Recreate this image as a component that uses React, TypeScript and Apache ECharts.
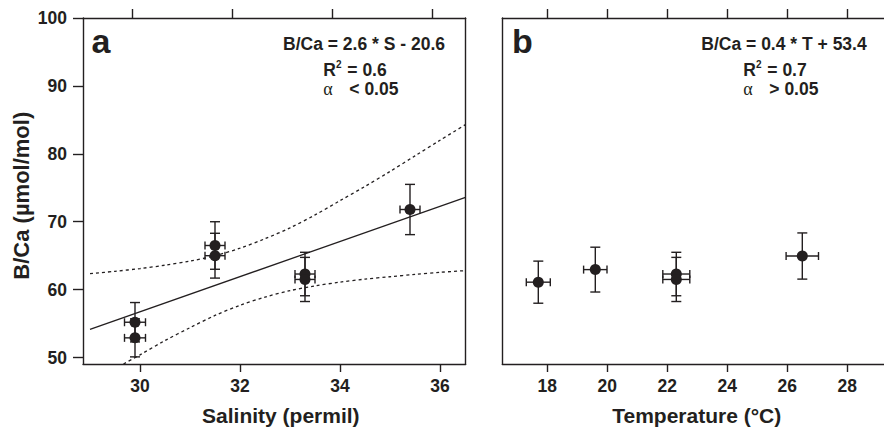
import React, { useEffect, useRef } from "react";
import * as echarts from "echarts";

// ---------- data ----------
// Panel a: salinity
const salinity = [29.9, 29.9, 31.5, 31.5, 33.3, 33.3, 35.4];
const bcaA = [55.2, 52.9, 66.5, 65.0, 62.3, 61.5, 71.8];
const xErrA = [0.21, 0.21, 0.2, 0.2, 0.2, 0.2, 0.2];
const yErrA = [2.9, 2.8, 3.5, 3.3, 3.2, 3.25, 3.7];

// regression line (as drawn)
const fitA: [number, number][] = [
  [29.0, 54.15],
  [36.51, 73.58],
];
// confidence band (dashed)
const upperA: [number, number][] = [
  [29.0, 62.35], [29.5, 62.7], [30.0, 63.1], [30.5, 63.6], [31.0, 64.2],
  [31.5, 65.0], [32.0, 66.1], [32.5, 67.5], [33.0, 69.1], [33.5, 71.0],
  [34.0, 73.1], [34.5, 75.2], [35.0, 77.4], [35.5, 79.7], [36.0, 82.0],
  [36.51, 84.3],
];
const lowerA: [number, number][] = [
  [29.67, 49.05], [30.0, 50.4], [30.5, 52.5], [31.0, 54.4], [31.5, 56.2],
  [32.0, 57.7], [32.5, 58.9], [33.0, 59.85], [33.5, 60.55], [34.0, 61.1],
  [34.5, 61.55], [35.0, 61.9], [35.5, 62.25], [36.0, 62.55], [36.51, 62.8],
];

// Panel b: temperature
const temperature = [17.7, 19.6, 22.3, 22.3, 26.5];
const bcaB = [61.1, 62.95, 62.3, 61.5, 64.95];
const xErrB = [0.4, 0.39, 0.45, 0.45, 0.54];
const yErrB = [3.1, 3.3, 3.2, 3.25, 3.4];

// ticks
const yTicks = [50, 60, 70, 80, 90, 100];
const xTicksA = [30, 32, 34, 36];
const xTopTicksA = [29.85, 31.85, 33.85, 35.85];
const xTicksB = [18, 20, 22, 24, 26, 28];

const INK = "#231f20";
const SANS = "'Liberation Sans', Arial, Helvetica, sans-serif";
const SERIF = "'Liberation Serif', 'Times New Roman', serif";

function errorBarItem(params: any, api: any) {
  const x = api.value(0);
  const y = api.value(1);
  const ex = api.value(2);
  const ey = api.value(3);
  const top = api.coord([x, y + ey]);
  const bot = api.coord([x, y - ey]);
  const left = api.coord([x - ex, y]);
  const right = api.coord([x + ex, y]);
  const cw = 5;
  const ch = 4;
  const style = { stroke: INK, lineWidth: 1.4 };
  return {
    type: "group",
    children: [
      { type: "line", shape: { x1: top[0], y1: top[1], x2: bot[0], y2: bot[1] }, style },
      { type: "line", shape: { x1: top[0] - cw, y1: top[1], x2: top[0] + cw, y2: top[1] }, style },
      { type: "line", shape: { x1: bot[0] - cw, y1: bot[1], x2: bot[0] + cw, y2: bot[1] }, style },
      { type: "line", shape: { x1: left[0], y1: left[1], x2: right[0], y2: right[1] }, style },
      { type: "line", shape: { x1: left[0], y1: left[1] - ch, x2: left[0], y2: left[1] + ch }, style },
      { type: "line", shape: { x1: right[0], y1: right[1] - ch, x2: right[0], y2: right[1] + ch }, style },
    ],
  };
}

export default function App() {
  const ref = useRef<HTMLDivElement>(null);

  useEffect(() => {
    if (!ref.current) return;
    const chart = echarts.init(ref.current, null, { renderer: "svg" });

    const lineStyle = { color: INK, width: 1.4 };
    const axisLineOn = { show: true, onZero: false, lineStyle };
    const labelStyle = {
      color: INK,
      fontSize: 17.5,
      fontWeight: "bold" as const,
      fontFamily: SANS,
    };
    const yMin = 49.05;
    const yMax = 100;
    const bMax = 16.5 + 381.7 / 30;

    const errA = salinity.map((s, i) => [s, bcaA[i], xErrA[i], yErrA[i]]);
    const errB = temperature.map((t, i) => [t, bcaB[i], xErrB[i], yErrB[i]]);

    const txt = (
      text: string,
      x: number,
      y: number,
      opts: any = {}
    ) => ({
      type: "text",
      x,
      y,
      z: 100,
      style: {
        text,
        fill: INK,
        font: opts.font || `bold 17.5px ${SANS}`,
        align: opts.align || "left",
        verticalAlign: "middle",
      },
      rotation: opts.rotation || 0,
    });

    chart.setOption({
      animation: false,
      backgroundColor: "#ffffff",
      grid: [
        { left: 83, top: 18, width: 382.7, height: 346, show: false, outerBoundsMode: "none", containLabel: false },
        { left: 502.3, top: 18, width: 381.7, height: 346, show: false, outerBoundsMode: "none", containLabel: false },
      ],
      xAxis: [
        {
          type: "value", gridIndex: 0, position: "bottom", min: 28.86, max: 36.514,
          axisLine: axisLineOn,
          axisTick: { show: true, inside: false, length: 8, lineStyle, customValues: xTicksA },
          axisLabel: { ...labelStyle, margin: 13, customValues: xTicksA },
          splitLine: { show: false },
        },
        {
          type: "value", gridIndex: 0, position: "top", min: 28.86, max: 36.514,
          axisLine: axisLineOn,
          axisTick: { show: true, inside: false, length: 9, lineStyle, customValues: xTopTicksA },
          axisLabel: { show: false, customValues: xTopTicksA },
          splitLine: { show: false },
        },
        {
          type: "value", gridIndex: 1, position: "bottom", min: 16.5, max: bMax,
          axisLine: axisLineOn,
          axisTick: { show: true, inside: false, length: 8, lineStyle, customValues: xTicksB },
          axisLabel: { ...labelStyle, margin: 13, customValues: xTicksB },
          splitLine: { show: false },
        },
        {
          type: "value", gridIndex: 1, position: "top", min: 16.5, max: bMax,
          axisLine: axisLineOn,
          axisTick: { show: true, inside: false, length: 9, lineStyle, customValues: xTicksB },
          axisLabel: { show: false, customValues: xTicksB },
          splitLine: { show: false },
        },
      ],
      yAxis: [
        {
          type: "value", gridIndex: 0, position: "left", min: yMin, max: yMax,
          axisLine: axisLineOn,
          axisTick: { show: true, inside: false, length: 10, lineStyle, customValues: yTicks },
          axisLabel: { ...labelStyle, margin: 16, customValues: yTicks },
          splitLine: { show: false },
        },
        {
          type: "value", gridIndex: 0, position: "right", min: yMin, max: yMax,
          axisLine: axisLineOn,
          axisTick: { show: false },
          axisLabel: { show: false },
          splitLine: { show: false },
        },
        {
          type: "value", gridIndex: 1, position: "left", min: yMin, max: yMax,
          axisLine: axisLineOn,
          axisTick: { show: false },
          axisLabel: { show: false },
          splitLine: { show: false },
        },
      ],
      series: [
        {
          type: "line", xAxisIndex: 0, yAxisIndex: 0, data: fitA, showSymbol: false, clip: true,
          lineStyle: { color: INK, width: 1.3 }, z: 2,
        },
        {
          type: "line", xAxisIndex: 0, yAxisIndex: 0, data: upperA, showSymbol: false, smooth: 0.3, clip: true,
          lineStyle: { color: INK, width: 1.3, type: [3, 3] }, z: 2,
        },
        {
          type: "line", xAxisIndex: 0, yAxisIndex: 0, data: lowerA, showSymbol: false, smooth: 0.3, clip: true,
          lineStyle: { color: INK, width: 1.3, type: [3, 3] }, z: 2,
        },
        {
          type: "custom", xAxisIndex: 0, yAxisIndex: 0, data: errA, renderItem: errorBarItem,
          encode: { x: 0, y: 1 }, z: 3,
        },
        {
          type: "scatter", xAxisIndex: 0, yAxisIndex: 0,
          data: salinity.map((s, i) => [s, bcaA[i]]),
          symbol: "circle", symbolSize: 11, itemStyle: { color: INK, opacity: 1 }, z: 4,
        },
        {
          type: "custom", xAxisIndex: 2, yAxisIndex: 2, data: errB, renderItem: errorBarItem,
          encode: { x: 0, y: 1 }, z: 3,
        },
        {
          type: "scatter", xAxisIndex: 2, yAxisIndex: 2,
          data: temperature.map((t, i) => [t, bcaB[i]]),
          symbol: "circle", symbolSize: 11, itemStyle: { color: INK, opacity: 1 }, z: 4,
        },
      ],
      graphic: [
        txt("a", 91.5, 41, { font: `bold 34px ${SANS}` }),
        txt("b", 512, 41, { font: `bold 34px ${SANS}` }),
        // panel a annotation
        txt("B/Ca = 2.6 * S - 20.6", 445, 43.5, { align: "right" }),
        txt("R", 323.3, 70),
        txt("2", 336, 64.5, { font: `bold 10px ${SANS}` }),
        txt("= 0.6", 347.3, 70),
        txt("α", 323.3, 88.5, { font: `18px ${SERIF}` }),
        txt("< 0.05", 349.3, 88.5),
        // panel b annotation
        txt("B/Ca = 0.4 * T + 53.4", 866.7, 43.5, { align: "right" }),
        txt("R", 743.3, 70),
        txt("2", 756, 64.5, { font: `bold 10px ${SANS}` }),
        txt("= 0.7", 767.3, 70),
        txt("α", 743.3, 88.5, { font: `18px ${SERIF}` }),
        txt("> 0.05", 769.3, 88.5),
        // axis titles
        txt("Salinity (permil)", 280.8, 415, { font: `bold 21px ${SANS}`, align: "center" }),
        txt("Temperature (°C)", 696.7, 415, { font: `bold 21px ${SANS}`, align: "center" }),
        txt("B/Ca (µmol/mol)", 21, 195.7, { font: `bold 22px ${SANS}`, align: "center", rotation: Math.PI / 2 }),
      ],
    });

    return () => chart.dispose();
  }, []);

  return (
    <div
      ref={ref}
      style={{ position: "absolute", left: 0, top: 0, width: 884, height: 427, overflow: "hidden" }}
    />
  );
}
